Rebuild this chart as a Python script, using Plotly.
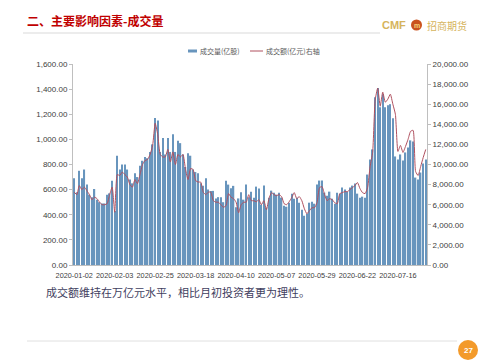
import pandas as pd
import plotly.graph_objects as go

# ---------------- data ----------------
holidays = ["2020-01-01", "2020-01-24", "2020-01-27", "2020-01-28", "2020-01-29",
            "2020-01-30", "2020-01-31", "2020-04-06", "2020-05-01", "2020-05-04",
            "2020-05-05", "2020-06-25", "2020-06-26"]
dates = [d.strftime("%Y-%m-%d") for d in pd.bdate_range("2020-01-02", "2020-07-31")
         if d.strftime("%Y-%m-%d") not in holidays]

tick_labels = ["2020-01-02", "2020-02-03", "2020-02-25", "2020-03-18", "2020-04-10",
               "2020-05-07", "2020-05-29", "2020-06-22", "2020-07-16"]

# 成交量(亿股) – left axis
volume = [690, 580, 750, 690, 760, 640, 560, 540, 605, 520,
          500, 490, 490, 560, 570, 670, 430, 870, 760, 800,
          800, 760, 680, 650, 730, 700, 790, 830, 860, 850,
          900, 960, 1170, 1150, 900, 1010, 880, 1010, 900, 1040,
          900, 990, 970, 880, 780, 890, 870, 760, 740, 730,
          650, 630, 690, 600, 590, 590, 530, 540, 540, 500,
          670, 640, 610, 630, 460, 530, 580, 520, 640, 540,
          584, 536, 624, 608, 480, 632, 456, 536, 592, 576,
          560, 576, 536, 472, 464, 496, 568, 528, 536, 496,
          440, 392, 408, 496, 504, 488, 640, 672, 672, 576,
          552, 584, 528, 488, 576, 568, 616, 600, 584, 616,
          632, 648, 568, 536, 544, 536, 720, 840, 920, 1336,
          1408, 1256, 1360, 1256, 1272, 1280, 1168, 864, 840, 880,
          832, 896, 936, 992, 984, 696, 680, 736, 808, 840]

# 成交额(亿元) – right axis
turnover = [7250, 7000, 7900, 7500, 7750, 7400, 7000, 6500, 6750, 6600,
            6250, 6000, 6000, 6100, 7000, 7750, 5250, 9000, 8900, 9250,
            9000, 8750, 8000, 7750, 8500, 8100, 9000, 10000, 10400, 10500,
            11000, 11900, 14100, 13000, 11000, 10750, 10750, 11500, 10250, 11250,
            10000, 11000, 10750, 11000, 9500, 8500, 9600, 9500, 8400, 8250,
            8250, 7250, 7000, 7250, 7250, 6400, 6250, 6250, 6000, 5750,
            5900, 7100, 6750, 6600, 6250, 5200, 6000, 6250, 6250, 7000,
            6400, 6400, 6300, 6500, 6000, 6400, 5500, 6600, 7200, 7000,
            6900, 7000, 6800, 6100, 6000, 6300, 6700, 7200, 6600, 6800,
            6400, 5600, 5100, 5400, 5700, 5700, 6200, 7700, 7800, 7000,
            6400, 6600, 6500, 6200, 6100, 7100, 7200, 7300, 7300, 7500,
            7700, 7900, 8200, 7600, 7200, 7100, 7700, 9800, 11200, 16400,
            17600, 15800, 17200, 16200, 16500, 17000, 16000, 15000, 11300, 11900,
            11200, 11800, 12500, 13300, 13400, 9300, 8900, 9800, 10700, 11500]

# ---------------- layout helpers ----------------
W, H = 499, 363
L, R, T, B = 73, 427, 64, 265


def px(x):
    return (x - L) / (R - L)


def py(y):
    return (B - y) / (B - T)


CJK = "Noto Sans CJK SC"
LAT = "Liberation Sans"
BAR_C = "#6895BD"
LINE_C = "#B0505F"

fig = go.Figure()
fig.add_trace(go.Bar(x=dates, y=volume, name="成交量(亿股)", marker_color=BAR_C,
                     marker_line_width=0, yaxis="y"))
fig.add_trace(go.Scatter(x=dates, y=turnover, name="成交额(亿元)右轴", mode="lines",
                         line=dict(color=LINE_C, width=1, shape="spline", smoothing=0.5),
                         yaxis="y2"))

axis_style = dict(showgrid=False, zeroline=False, showline=True, linecolor="#BFBFBF",
                  linewidth=1, ticks="outside", ticklen=3, tickcolor="#BFBFBF",
                  tickfont=dict(family=LAT, size=8, color="#404040"), tickformat=",.2f")

fig.update_layout(
    width=W, height=H, autosize=False,
    margin=dict(l=L, r=W - R, t=T, b=H - B, pad=0),
    paper_bgcolor="white", plot_bgcolor="white",
    showlegend=False, bargap=0.45,
    xaxis=dict(type="category", range=[-0.5, len(dates) - 0.5], tickvals=tick_labels,
               ticktext=tick_labels, tickangle=0, showgrid=False, showline=True,
               linecolor="#BFBFBF", ticks="", ticklabelstandoff=3,
               tickfont=dict(family=LAT, size=7.3, color="#404040")),
    yaxis=dict(range=[0, 1600], dtick=200, **axis_style),
    yaxis2=dict(range=[0, 20000], dtick=2000, overlaying="y", side="right", **axis_style),
)

ann = []
shapes = []
# title
ann.append(dict(x=px(25), y=py(20), text="<b>二、主要影响因素-成交量</b>", showarrow=False,
                xanchor="left", yanchor="middle",
                font=dict(family=CJK, size=12, color="#C00000")))
shapes.append(dict(type="line", xref="paper", yref="paper", x0=px(23), x1=px(380),
                   y0=py(33), y1=py(33), line=dict(color="#D9D9D9", width=1)))
# logo
ann.append(dict(x=px(380), y=py(25), text="<b>CMF</b>", showarrow=False, xanchor="left",
                yanchor="middle", font=dict(family=LAT, size=11, color="#D6B45C")))
shapes.append(dict(type="circle", xref="paper", yref="paper", x0=px(411), x1=px(422),
                   y0=py(19.5), y1=py(30.5), fillcolor="#C9521E", line=dict(width=0)))
ann.append(dict(x=px(416.5), y=py(25), text="<b>m</b>", showarrow=False, xanchor="center",
                yanchor="middle", font=dict(family=LAT, size=7, color="#F6D27A")))
ann.append(dict(x=px(425), y=py(25.5), text="招商期货", showarrow=False, xanchor="left",
                yanchor="middle", font=dict(family=CJK, size=10, color="#D6B45C")))
# legend (manual)
shapes.append(dict(type="rect", xref="paper", yref="paper", x0=px(188), x1=px(197),
                   y0=py(52.5), y1=py(49.5), fillcolor=BAR_C, line=dict(width=0)))
ann.append(dict(x=px(198), y=py(51), text="成交量(亿股)", showarrow=False, xanchor="left",
                yanchor="middle", font=dict(family=CJK, size=7, color="#595959")))
shapes.append(dict(type="line", xref="paper", yref="paper", x0=px(250), x1=px(263),
                   y0=py(51), y1=py(51), line=dict(color=LINE_C, width=1)))
ann.append(dict(x=px(264), y=py(51), text="成交额(亿元)右轴", showarrow=False, xanchor="left",
                yanchor="middle", font=dict(family=CJK, size=7, color="#595959")))
# caption
ann.append(dict(x=px(44), y=py(292), text="成交额维持在万亿元水平，相比月初投资者更为理性。",
                showarrow=False, xanchor="left", yanchor="middle",
                font=dict(family=CJK, size=11, color="#3F4060")))
# footer
shapes.append(dict(type="line", xref="paper", yref="paper", x0=px(27), x1=px(457),
                   y0=py(341), y1=py(341), line=dict(color="#E0E0E0", width=1)))
shapes.append(dict(type="circle", xref="paper", yref="paper", x0=px(458), x1=px(478),
                   y0=py(340), y1=py(360), fillcolor="#F39A2B", line=dict(width=0)))
ann.append(dict(x=px(468), y=py(350), text="<b>27</b>", showarrow=False, xanchor="center",
                yanchor="middle", font=dict(family=LAT, size=8, color="white")))

for a in ann:
    a.setdefault("xref", "paper")
    a.setdefault("yref", "paper")
fig.update_layout(annotations=ann, shapes=shapes)

fig.write_html("out.html")
